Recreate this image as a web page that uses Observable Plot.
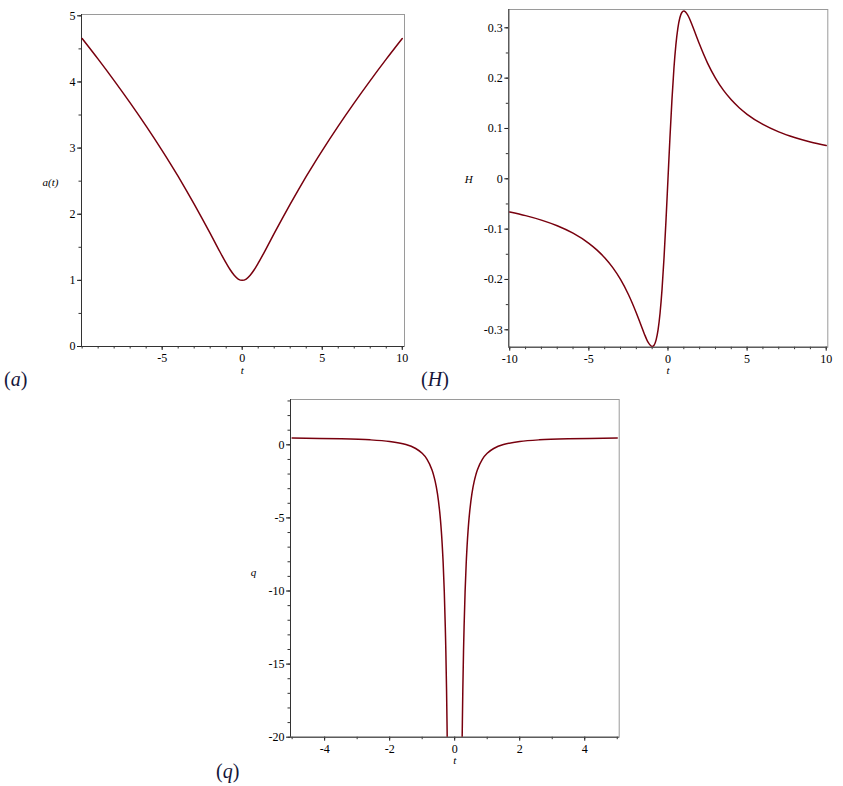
<!DOCTYPE html>
<html>
<head>
<meta charset="utf-8">
<script src="https://cdn.jsdelivr.net/npm/d3@7"></script>
<script src="https://cdn.jsdelivr.net/npm/@observablehq/plot@0.6"></script>
<style>
  html, body { margin: 0; padding: 0; background: #fff; }
  #root { position: relative; width: 843px; height: 786px; overflow: hidden; background: #fff; }
  .panel { position: absolute; }
  #root svg, #root svg text { font-family: "Liberation Serif", "DejaVu Serif", serif !important; }
  .plabel { position: absolute; font-family: "Liberation Serif", "DejaVu Serif", serif; font-size: 20px; line-height: 20px; color: #16163a; white-space: nowrap; }
</style>
</head>
<body>
<div id="root">
  <div id="pa" class="panel" style="left:0px;top:0px"></div>
  <div id="ph" class="panel" style="left:420px;top:0px"></div>
  <div id="pq" class="panel" style="left:200px;top:390px"></div>
  <div class="plabel" style="left:4px;top:369px">(<i>a</i>)</div>
  <div class="plabel" style="left:421px;top:369px">(<i>H</i>)</div>
  <div class="plabel" style="left:216px;top:761px">(<i>q</i>)</div>
</div>
<script>
// ---- data ----
// panel (a): scale factor a(t)
const aT = [-10,-9,-8,-7,-6,-5,-4.5,-4,-3.5,-3,-2.5,-2,-1.5,-1,-0.75,-0.5,-0.25,0,0.25,0.5,0.75,1,1.5,2,2.5,3,3.5,4,4.5,5,6,7,8,9,10];
const aV = [4.657,4.345,4.021,3.684,3.332,2.962,2.770,2.571,2.366,2.154,1.935,1.710,1.481,1.260,1.160,1.077,1.020,1.000,1.020,1.077,1.160,1.260,1.481,1.710,1.935,2.154,2.366,2.571,2.770,2.962,3.332,3.684,4.021,4.345,4.657];

// panel (H): Hubble parameter
const hT = [-10,-9,-8,-7,-6,-5,-4.5,-4,-3.5,-3,-2.5,-2,-1.75,-1.5,-1.25,-1,-0.875,-0.75,-0.625,-0.5,-0.375,-0.25,-0.125,0,
            0.125,0.25,0.375,0.5,0.625,0.75,0.875,1,1.25,1.5,1.75,2,2.5,3,3.5,4,4.5,5,6,7,8,9,10];
const hV = [-0.0660,-0.0732,-0.0821,-0.0933,-0.1081,-0.1282,-0.1412,-0.1569,-0.1761,-0.2000,-0.2299,-0.2667,-0.2872,-0.3077,-0.3252,-0.3333,-0.3304,-0.3200,-0.2996,-0.2667,-0.2192,-0.1569,-0.0821,0,
            0.0821,0.1569,0.2192,0.2667,0.2996,0.3200,0.3304,0.3333,0.3252,0.3077,0.2872,0.2667,0.2299,0.2000,0.1761,0.1569,0.1412,0.1282,0.1081,0.0933,0.0821,0.0732,0.0660];

// panel (q): deceleration parameter (two branches, clipped at -20)
const qT = [-5,-3.5,-2.6,-2,-1.5,-1.2,-1,-0.85,-0.7,-0.6,-0.53,-0.46,-0.41,-0.36,-0.32,-0.28,-0.25,-0.22,
            0.22,0.25,0.28,0.32,0.36,0.41,0.46,0.53,0.6,0.7,0.85,1,1.2,1.5,2,2.6,3.5,5];
const qV = [0.46,0.41,0.34,0.23,0.02,-0.25,-0.58,-0.99,-1.70,-2.5,-3.34,-4.6,-5.92,-7.83,-10.05,-13.3,-16.8,-21.8,
            -21.8,-16.8,-13.3,-10.05,-7.83,-5.92,-4.6,-3.34,-2.5,-1.70,-0.99,-0.58,-0.25,0.02,0.23,0.34,0.41,0.46];

// tick labels
const aXTicks = [-5, 0, 5, 10];
const aYTicks = [0, 1, 2, 3, 4, 5];
const hXTicks = [-10, -5, 0, 5, 10];
const hYTicks = [-0.3, -0.2, -0.1, 0, 0.1, 0.2, 0.3];
const qXTicks = [-4, -2, 0, 2, 4];
const qYTicks = [0, -5, -10, -15, -20];

// axis titles
const aYLabel = "a(t)";
const hYLabel = "H";
const qYLabel = "q";
const tLabel = "t";

const CURVE = "#78000E";
const FONT = "'Liberation Serif', 'DejaVu Serif', serif";

function panel(o) {
  const data = o.t.map((t, i) => ({t, v: o.v[i], side: t < 0 ? "L" : "R"}));
  return Plot.plot({
    width: o.width, height: o.height,
    marginLeft: o.ml, marginRight: o.mr, marginTop: o.mt, marginBottom: o.mb,
    style: {fontFamily: FONT, fontSize: "12px", color: "#000", background: "#fff", overflow: "visible"},
    x: {domain: o.xDomain, label: null},
    y: {domain: o.yDomain, label: null},
    marks: [
      Plot.axisX(o.xMinor, {tickSize: 2.5, tickFormat: () => "", stroke: "#333"}),
      Plot.axisY(o.yMinor, {tickSize: 2.5, tickFormat: () => "", stroke: "#333"}),
      Plot.axisX(o.xTicks, {tickSize: 4, tickPadding: 3, tickFormat: d => String(d), stroke: "#222", fontSize: 12}),
      Plot.axisY(o.yTicks, {tickSize: 4, tickPadding: 2, tickFormat: d => String(d), stroke: "#222", fontSize: 12}),
      Plot.frame({stroke: "#9a9a9a"}),
      Plot.ruleY([o.yDomain[0]], {stroke: "#333"}),
      Plot.ruleX([o.xDomain[0]], {stroke: "#333"}),
      Plot.line(data, {x: "t", y: "v", z: o.split ? "side" : null, stroke: CURVE, strokeWidth: 1.5, curve: o.curve || "monotone-x", clip: true}),
      Plot.text([o.ylab], {text: d => d, frameAnchor: "left", dx: o.ylabDx, dy: o.ylabDy || 0, fontStyle: "italic", fontSize: 11, textAnchor: "middle"}),
      Plot.text([tLabel], {text: d => d, frameAnchor: "bottom", x: () => 0, dy: 27, fontStyle: "italic", fontSize: 11})
    ]
  });
}

document.getElementById("pa").appendChild(panel({
  t: aT, v: aV, width: 420, height: 390, ml: 81, mr: 16, mt: 14, mb: 44,
  xDomain: [-10.04, 10.14], yDomain: [0, 5.02],
  xTicks: aXTicks, yTicks: aYTicks,
  xMinor: d3.range(-10, 11, 1), yMinor: d3.range(0, 5.01, 0.5),
  ylab: aYLabel, ylabDx: -31, ylabDy: 2
}));

document.getElementById("ph").appendChild(panel({
  t: hT, v: hV, width: 423, height: 390, ml: 88.3, mr: 15.7, mt: 9, mb: 43.3,
  xDomain: [-10.06, 10.1], yDomain: [-0.3346, 0.3364],
  xTicks: hXTicks, yTicks: hYTicks,
  xMinor: d3.range(-10, 11, 1), yMinor: d3.range(-6, 7, 1).map(k => k * 0.05),
  ylab: hYLabel, ylabDx: -40, ylabDy: 1
}));

document.getElementById("pq").appendChild(panel({
  t: qT, v: qV, width: 440, height: 396, ml: 90, mr: 21.3, mt: 9, mb: 49.3,
  xDomain: [-5.05, 5.06], yDomain: [-20, 3.1],
  xTicks: qXTicks, yTicks: qYTicks,
  xMinor: d3.range(-5, 6, 1), yMinor: d3.range(-20, 4, 1),
  ylab: qYLabel, ylabDx: -37, ylabDy: 4, split: true, curve: "catmull-rom"
}));
</script>
</body>
</html>
